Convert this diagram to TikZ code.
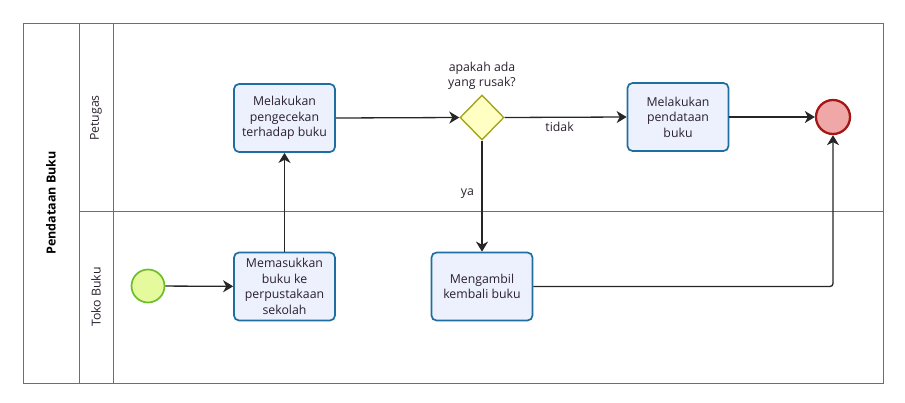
\documentclass[tikz,border=0pt]{standalone}
\usepackage{fontspec}
\setmainfont{Open Sans}
\usetikzlibrary{arrows.meta,shapes.geometric}
\definecolor{taskfill}{HTML}{EDF1FD}
\definecolor{taskdraw}{HTML}{1E6FA0}
\definecolor{gwfill}{HTML}{FFFFC4}
\definecolor{gwdraw}{HTML}{A5A51C}
\definecolor{endfill}{HTML}{EFA7A7}
\definecolor{enddraw}{HTML}{A51616}
\definecolor{startfill}{HTML}{E4FA9C}
\definecolor{startdraw}{HTML}{6DBE2A}
\definecolor{lanec}{HTML}{6E6E6E}
\definecolor{txt}{HTML}{2A1F2E}
\tikzset{
  task/.style={draw=taskdraw, fill=taskfill, line width=1.7pt, rounded corners=5pt,
    minimum width=101pt, minimum height=68pt, align=center, text=txt,
    font=\fontsize{12.3}{15.5}\selectfont, inner sep=1pt},
  gw/.style={diamond, draw=gwdraw, fill=gwfill, line width=1.4pt, minimum width=44pt, minimum height=45pt, inner sep=0pt},
  evend/.style={circle, draw=enddraw, fill=endfill, line width=2.3pt, minimum size=34pt, inner sep=0pt},
  evstart/.style={circle, draw=startdraw, fill=startfill, line width=1.7pt, minimum size=33pt, inner sep=0pt},
  flow/.style={draw=black!85, line width=1.3pt, -{Stealth[length=10pt,width=12pt,inset=3pt]}},
  lane/.style={draw=lanec, line width=1pt},
  lbl/.style={text=txt, font=\fontsize{12.3}{14.5}\selectfont, align=center}
}
\begin{document}
\begin{tikzpicture}[x=1pt,y=-1pt]
\useasboundingbox (0,0) rectangle (905,402);
% pool and lanes
\draw[lane] (23,23) rectangle (883,383);
\draw[lane] (79,23) -- (79,383);
\draw[lane] (113,23) -- (113,383);
\draw[lane] (79,211) -- (883,211);
\node[rotate=90, font=\bfseries\fontsize{12.5}{14}\selectfont, text=black] (pool) at (51,203) {Pendataan Buku};
\node[rotate=90, lbl] (l1) at (96,118) {Petugas};
\node[rotate=90, lbl] (l2) at (96,297) {Toko Buku};
% nodes
\node[evstart] (start) at (148,286) {};
\node[task] (t0) at (284.5,286.5) {Memasukkan\\buku ke\\perpustakaan\\sekolah};
\node[task] (t1) at (284.5,118) {Melakukan\\pengecekan\\terhadap buku};
\node[gw] (g) at (482,117.5) {};
\node[lbl] (q) at (482,76) {apakah ada\\yang rusak?};
\node[task] (t2) at (678,117) {Melakukan\\pendataan\\buku};
\node[task] (t3) at (482,286.5) {Mengambil\\kembali buku};
\node[evend] (end) at (833,117) {};
% flows
\draw[flow] (start) -- (t0);
\draw[flow] (t0.north) -- (t1.south);
\draw[flow] (t1.east) -- (g.west);
\draw[flow] (g.east) -- node[lbl, pos=0.45, below=1pt] (tidak) {tidak} (t2.west);
\draw[flow] (g.south) -- node[lbl, pos=0.48, left=4pt] (ya) {ya} (t3.north);
\draw[flow] (t2.east) -- (end.west);
\draw[flow, rounded corners=3pt] (t3.east) -| (end.south);
\end{tikzpicture}
\end{document}
